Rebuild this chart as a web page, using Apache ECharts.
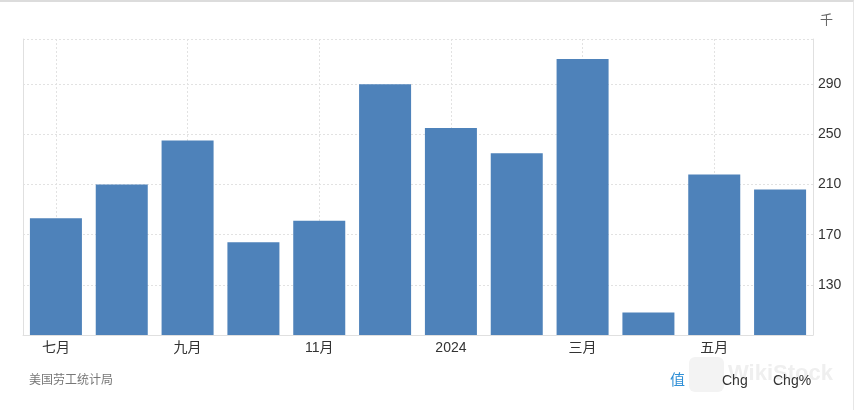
<!DOCTYPE html>
<html>
<head>
<meta charset="utf-8">
<script src="https://cdn.jsdelivr.net/npm/echarts@6/dist/echarts.min.js"></script>
<style>
html,body{margin:0;padding:0;background:#fff;}
#wrap{position:relative;width:854px;height:410px;box-sizing:border-box;border-top:2px solid #dcdcdc;border-right:1px solid #e6e6e6;}
#chart{position:absolute;left:0;top:-2px;width:854px;height:410px;}
</style>
</head>
<body>
<div id="wrap"><div id="chart"></div></div>
<script>
const categories = ['七月','八月','九月','十月','11月','12月','2024','二月','三月','四月','五月','六月'];
const values = [183, 210, 245, 164, 181, 290, 255, 235, 310, 108, 218, 206];
const yTickLabels = [130, 170, 210, 250, 290];
const unitLabel = '千';
const sourceLabel = '美国劳工统计局';
const tabLabels = ['值', 'Chg', 'Chg%'];

const FONT = '"Liberation Sans", "Noto Sans CJK SC", Arial, sans-serif';
const chart = echarts.init(document.getElementById('chart'), null, {renderer: 'canvas'});
chart.setOption({
  animation: false,
  backgroundColor: 'transparent',
  textStyle: {fontFamily: FONT},
  title: {
    text: unitLabel, right: 16, top: 9,
    textStyle: {fontSize: 13, color: '#666', fontWeight: 'normal', fontFamily: FONT}
  },
  grid: {left: 23, right: 41, top: 39, bottom: 75, containLabel: false},
  xAxis: {
    type: 'category',
    data: categories,
    boundaryGap: true,
    axisLine: {show: true, lineStyle: {color: '#e0e0e0', width: 1}},
    axisTick: {show: false, alignWithLabel: true, interval: 1},
    axisLabel: {interval: 1, color: '#333', fontSize: 14, margin: 6, fontFamily: FONT},
    splitLine: {show: true, interval: 1, alignWithLabel: true, lineStyle: {color: '#e2e2e2', type: [2, 2], width: 1}}
  },
  yAxis: [{
    type: 'value',
    position: 'right',
    min: 90, max: 326, interval: 40,
    axisLine: {show: true, lineStyle: {color: '#e0e0e0', width: 1}},
    axisTick: {show: false},
    axisLabel: {
      color: '#333', fontSize: 14, margin: 5, fontFamily: FONT,
      showMinLabel: false, showMaxLabel: false,
      formatter: function (v) { return yTickLabels.indexOf(v) >= 0 ? String(v) : ''; }
    },
    splitLine: {show: true, lineStyle: {color: '#e2e2e2', type: [2, 2], width: 1}}
  }, {
    type: 'value',
    position: 'left',
    min: 90, max: 326, interval: 40,
    axisLine: {show: true, lineStyle: {color: '#e0e0e0', width: 1}},
    axisTick: {show: false},
    axisLabel: {show: false},
    splitLine: {show: false}
  }],
  series: [{
    type: 'bar',
    data: values,
    yAxisIndex: 0,
    barCategoryGap: '21%',
    itemStyle: {color: '#4e82ba'}
  }],
  graphic: [
    {type: 'text', left: 29, top: 375, style: {text: sourceLabel, fill: '#777', font: '12px ' + FONT}},
    {type: 'group', left: 689, top: 357, children: [
      {type: 'rect', shape: {x: 0, y: 0, width: 35, height: 35, r: 6}, style: {fill: '#f3f3f3'}},
      {type: 'text', x: 39, y: 6, style: {text: 'WikiStock', fill: '#efefef', font: 'bold 22px ' + FONT}}
    ]},
    {type: 'text', left: 670, top: 373, style: {text: tabLabels[0], fill: '#2f8fd6', font: '15px ' + FONT}},
    {type: 'text', left: 722, top: 374, style: {text: tabLabels[1], fill: '#333', font: '14px ' + FONT}},
    {type: 'text', left: 773, top: 374, style: {text: tabLabels[2], fill: '#333', font: '14px ' + FONT}}
  ]
});
</script>
</body>
</html>
